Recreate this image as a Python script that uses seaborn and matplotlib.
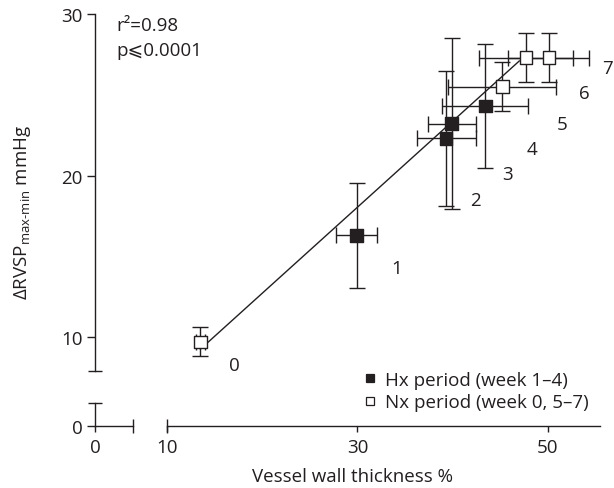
import numpy as np
import pandas as pd
import matplotlib
matplotlib.use("Agg")
import matplotlib.pyplot as plt
from matplotlib.lines import Line2D
import seaborn as sns

# ---- data -------------------------------------------------------------
weeks = [0, 1, 2, 3, 4, 5, 6, 7]
period = ["Nx", "Hx", "Hx", "Hx", "Hx", "Nx", "Nx", "Nx"]
wall_thickness = [13.5, 29.9, 39.3, 39.9, 43.4, 45.2, 47.7, 50.1]
wall_thickness_err = [0.5, 2.15, 3.1, 2.55, 4.5, 5.65, 4.95, 4.25]
delta_rvsp = [9.7, 16.3, 22.3, 23.2, 24.3, 25.5, 27.3, 27.3]
delta_rvsp_err = [0.9, 3.25, 4.2, 5.3, 3.85, 1.5, 1.5, 1.5]

# week-number annotations (data coordinates)
label_x = [17.1, 34.15, 42.35, 45.7, 48.3, 51.45, 53.8, 56.2]
label_y = [8.3, 14.25, 18.5, 20.1, 21.65, 23.2, 25.1, 26.65]

# regression line end points
fit_x = [13.5, 47.0]
fit_y = [9.25, 27.1]

stats_text = ["r\u00b2=0.98", "p\u2a7d0.0001"]
legend_labels = ["Hx period (week 1\u20134)", "Nx period (week 0, 5\u20137)"]
x_ticks_main = [10, 30, 50]
y_ticks_main = [10, 20, 30]

df = pd.DataFrame({"week": weeks, "period": period,
                   "thickness": wall_thickness, "rvsp": delta_rvsp})

# ---- styling ------------------------------------------------------------
sns.set_style("ticks")
FONT = ["Open Sans", "DejaVu Sans"]
plt.rcParams["font.family"] = FONT
plt.rcParams["mathtext.fontset"] = "custom"
plt.rcParams["mathtext.rm"] = "Open Sans"
INK = "#231f20"
FS = 13.5
LW = 1.0

W, H = 614, 489
fig = plt.figure(figsize=(W / 100, H / 100), dpi=100)


def box(x0, y0, x1, y1):
    """Figure-fraction rectangle from pixel edges (origin top-left)."""
    return [x0 / W, 1 - y1 / H, (x1 - x0) / W, (y1 - y0) / H]


XMAX = 55.46
YMIN = 7.9
YLOW_TOP = 1.42

ax_main = fig.add_axes(box(167, 15, 600, 372))
ax_ul = fig.add_axes(box(95, 15, 133, 372))
ax_ll = fig.add_axes(box(95, 404, 133, 427))
ax_lr = fig.add_axes(box(167, 404, 600, 427))

for a in (ax_main, ax_ul, ax_ll, ax_lr):
    a.set_facecolor("none")
    for s in a.spines.values():
        s.set_visible(False)
        s.set_linewidth(LW)
        s.set_color(INK)
    a.tick_params(colors=INK, labelcolor=INK, width=LW, length=6,
                  labelsize=FS, pad=3, direction="out")
    a.set_xticks([])
    a.set_yticks([])

ax_main.set_xlim(10, XMAX)
ax_main.set_ylim(YMIN, 30)
ax_main.set_zorder(5)

# upper-left: main y axis
ax_ul.set_xlim(0, 4)
ax_ul.set_ylim(YMIN, 30)
ax_ul.spines["left"].set_visible(True)
ax_ul.set_yticks(y_ticks_main)

# lower-left: origin segment of both axes
ax_ll.set_xlim(0, 4)
ax_ll.set_ylim(0, YLOW_TOP)
ax_ll.spines["left"].set_visible(True)
ax_ll.spines["bottom"].set_visible(True)
ax_ll.set_xticks([0])
ax_ll.set_yticks([0])

# lower-right: main x axis
ax_lr.set_xlim(10, XMAX)
ax_lr.set_ylim(0, YLOW_TOP)
ax_lr.spines["bottom"].set_visible(True)
ax_lr.set_xticks(x_ticks_main)

for a in (ax_ll, ax_lr):
    a.tick_params(axis="x", pad=4, length=4.5)

# break caps at the ends of the axis segments
cap = dict(color=INK, markersize=10, markeredgewidth=LW, clip_on=False)
ax_ul.plot([0], [0], marker="_", transform=ax_ul.transAxes, **cap)
ax_ll.plot([0], [1], marker="_", transform=ax_ll.transAxes, **cap)
ax_ll.plot([1], [0], marker="|", transform=ax_ll.transAxes, **cap)
ax_lr.plot([0], [0], marker="|", transform=ax_lr.transAxes, **cap)

# ---- data marks ------------------------------------------------------------
ax_main.plot(fit_x, fit_y, color=INK, lw=LW, zorder=1)
ax_main.errorbar(wall_thickness, delta_rvsp, xerr=wall_thickness_err,
                 yerr=delta_rvsp_err, fmt="none", ecolor=INK,
                 elinewidth=LW, capsize=6, capthick=LW, zorder=2)
sns.scatterplot(data=df, x="thickness", y="rvsp", hue="period",
                palette={"Hx": INK, "Nx": "white"}, marker="s", s=85,
                edgecolor=INK, linewidth=LW, legend=False, zorder=3,
                ax=ax_main)
ax_main.set_xlabel("")
ax_main.set_ylabel("")
ax_main.set_xticks([])
ax_main.set_yticks([])

for w, lx, ly in zip(weeks, label_x, label_y):
    ax_main.text(lx, ly, str(w), fontsize=FS, color=INK,
                 ha="center", va="center", clip_on=False)

# statistics
fig.text(116 / W, 1 - 26 / H, stats_text[0], fontsize=FS, color=INK,
         ha="left", va="center")
fig.text(116 / W, 1 - 51 / H, stats_text[1], fontsize=FS, color=INK,
         ha="left", va="center", family=FONT)

# legend
handles = [Line2D([], [], ls="none", marker="s", markersize=6,
                  markerfacecolor=INK, markeredgecolor=INK, markeredgewidth=0.9),
           Line2D([], [], ls="none", marker="s", markersize=6,
                  markerfacecolor="white", markeredgecolor=INK,
                  markeredgewidth=0.9)]
fig.legend(handles, legend_labels, loc="upper left",
           bbox_to_anchor=(363 / W, 1 - 372 / H), frameon=False,
           fontsize=FS, handlelength=0.7, handletextpad=0.45,
           labelspacing=0.22, borderpad=0, borderaxespad=0,
           labelcolor=INK)

# axis titles
fig.text(352 / W, 1 - 477 / H, "Vessel wall thickness %", fontsize=FS,
         color=INK, ha="center", va="center")
fig.text(23 / W, 1 - 212 / H,
         r"$\Delta$RVSP$_{\mathregular{max\text{-}min}}$ mmHg",
         fontsize=FS, color=INK, ha="center", va="center", rotation=90)

fig.savefig("out.png", dpi=100)
